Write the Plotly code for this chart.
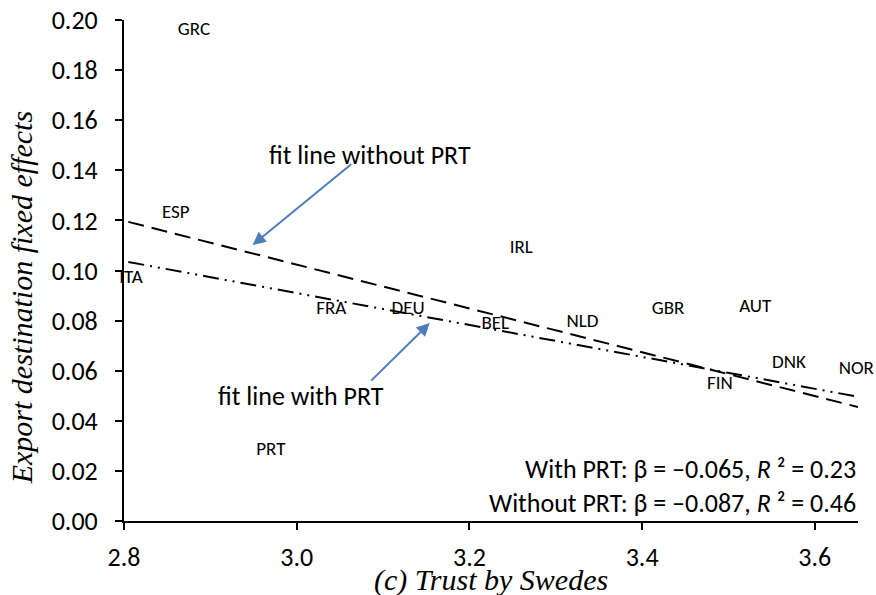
import plotly.graph_objects as go

# country labels
countries = ['GRC', 'ESP', 'ITA', 'IRL', 'FRA', 'DEU', 'BEL', 'NLD', 'GBR', 'AUT', 'DNK', 'NOR', 'FIN', 'PRT']
trust = [2.881, 2.860, 2.808, 3.260, 3.040, 3.129, 3.230, 3.331, 3.430, 3.531, 3.570, 3.648, 3.490, 2.970]
fixed_effects = [0.196, 0.123, 0.097, 0.109, 0.0846, 0.0846, 0.0786, 0.0794, 0.0846, 0.0854, 0.0631, 0.0607, 0.0547, 0.0283]

# fit lines (end points)
fit_x = [2.805, 3.65]
fit_without_prt = [0.1194, 0.0455]
fit_with_prt = [0.1034, 0.0496]

label_font = 'Carlito, Lato, sans-serif'
serif = 'Liberation Serif, Times New Roman, serif'

fig = go.Figure()
fig.add_trace(go.Scatter(x=fit_x, y=fit_without_prt, mode='lines',
                         line=dict(color='black', width=2, dash='16px,8px'), showlegend=False))
fig.add_trace(go.Scatter(x=fit_x, y=fit_with_prt, mode='lines',
                         line=dict(color='black', width=2, dash='16px,6px,2px,6px,2px,6px'), showlegend=False))
fig.add_trace(go.Scatter(x=trust, y=fixed_effects, mode='text', text=countries,
                         textposition='middle center', textfont=dict(family=label_font, size=19, color='black'),
                         showlegend=False, cliponaxis=False))

# arrows
fig.add_annotation(x=2.949, y=0.1102, ax=100, ay=-82, text='', showarrow=True,
                   arrowhead=2, arrowsize=1.3, arrowwidth=2, arrowcolor='#4a7ebb')
fig.add_annotation(x=3.154, y=0.079, ax=-60, ay=59, text='', showarrow=True,
                   arrowhead=2, arrowsize=1.3, arrowwidth=2, arrowcolor='#4a7ebb')
fig.add_annotation(x=3.085, y=0.146, text='fit line without PRT', showarrow=False,
                   font=dict(family=label_font, size=26, color='black'))
fig.add_annotation(x=3.005, y=0.050, text='fit line with PRT', showarrow=False,
                   font=dict(family=label_font, size=26, color='black'))
fig.add_annotation(xref='paper', yref='paper', x=1.0, y=0.0, xanchor='right', yanchor='bottom',
                   text='With PRT: β = –0.065, <i>R</i> ² = 0.23<br>Without PRT: β = –0.087, <i>R</i> ² = 0.46',
                   align='right', showarrow=False,
                   font=dict(family=label_font, size=26, color='black'))

# axis titles
fig.add_annotation(xref='paper', yref='paper', x=0.5, y=-0.118, xanchor='center', yanchor='middle',
                   text='<i>(c) Trust by Swedes</i>', showarrow=False,
                   font=dict(family=serif, size=30, color='black'))
fig.add_annotation(xref='paper', yref='paper', x=-0.14, y=0.445, xanchor='center', yanchor='middle',
                   text='<i>Export destination fixed effects</i>', showarrow=False, textangle=-90,
                   font=dict(family=serif, size=30, color='black'))

fig.update_layout(
    width=876, height=595,
    paper_bgcolor='white', plot_bgcolor='white',
    margin=dict(l=124, r=18, t=20, b=74),
    xaxis=dict(range=[2.8, 3.65], tickvals=[2.8, 3.0, 3.2, 3.4, 3.6], tickformat='.1f',
               showgrid=False, zeroline=False, showline=True, linecolor='black', linewidth=2,
               ticks='outside', ticklen=7, tickwidth=2, tickcolor='black', automargin=False,
               ticklabelstandoff=5,
               tickfont=dict(family=label_font, size=26, color='black')),
    yaxis=dict(range=[0, 0.2], dtick=0.02, tickformat='.2f',
               showgrid=False, zeroline=False, showline=True, linecolor='black', linewidth=2,
               ticks='outside', ticklen=7, tickwidth=2, tickcolor='black', automargin=False,
               ticklabelstandoff=12,
               tickfont=dict(family=label_font, size=26, color='black')),
)

# the page's default body margin would push the figure 8px down and right
fig.write_html("out.html", config={'displayModeBar': False},
               post_script="document.body.style.margin='0px';")
